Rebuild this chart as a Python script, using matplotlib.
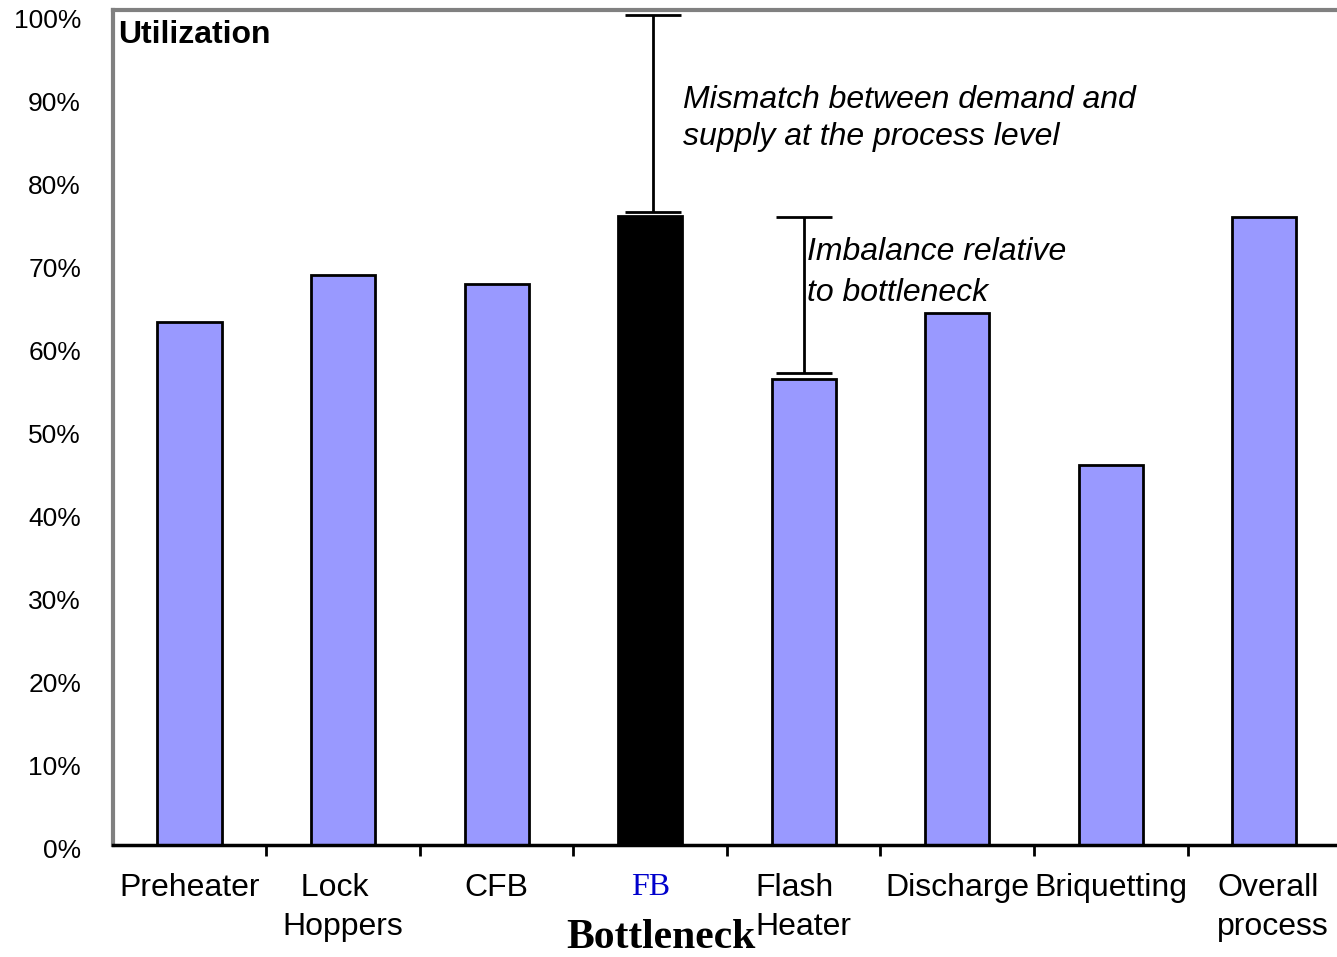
import numpy as np
import matplotlib
matplotlib.use('Agg')
import matplotlib.pyplot as plt
from matplotlib.transforms import ScaledTranslation

plt.rcParams['font.family'] = ['Liberation Sans', 'DejaVu Sans']

stages = ['Preheater', '  Lock\nHoppers', 'CFB', 'FB', 'Flash\nHeater',
          'Discharge', 'Briquetting', 'Overall\nprocess']
utilization = [63.0, 68.7, 67.6, 75.8, 56.1, 64.1, 45.8, 75.7]
bottleneck_idx = 3

# ranges for the two annotations (low, high)
mismatch_range = [76.3, 100.0]
imbalance_range = [56.9, 75.7]

fig = plt.figure(figsize=(13.37, 9.57), dpi=100)
ax = fig.add_axes([0.0845, 0.117, 0.9185, 0.8725])

x = np.arange(len(stages))
colors = ['#9999FF'] * len(stages)
colors[bottleneck_idx] = 'black'
ax.bar(x, utilization, width=0.42, color=colors, edgecolor='black', linewidth=2)

# error-bar style brackets
def bracket(xpos, lo, hi):
    mid = (lo + hi) / 2
    ax.errorbar(xpos, mid, yerr=[[mid - lo], [hi - mid]], fmt='none',
                ecolor='black', elinewidth=2, capsize=20, capthick=2)

bracket(bottleneck_idx + 0.02, mismatch_range[0], mismatch_range[1])
bracket(4, imbalance_range[0], imbalance_range[1])

ax.text(3.216, 91.6, 'Mismatch between demand and\nsupply at the process level',
        style='italic', fontsize=23, va='top', ha='left', linespacing=1.32)
ax.text(4.02, 73.2, 'Imbalance relative\nto bottleneck',
        style='italic', fontsize=23, va='top', ha='left', linespacing=1.45)
ax.text(0.004, 0.988, 'Utilization', transform=ax.transAxes,
        fontsize=23, fontweight='bold', va='top', ha='left')

ax.set_xlim(-0.5, len(stages) - 0.5)
ax.set_ylim(0, 100.6)

# y axis
ax.set_yticks(np.arange(0, 101, 10))
ax.set_yticklabels([f'{v}%' for v in range(0, 101, 10)])
ax.tick_params(axis='y', length=0, pad=23, labelsize=19)
for lab in ax.get_yticklabels():
    lab.set_transform(lab.get_transform() + ScaledTranslation(0, -0.03, fig.dpi_scale_trans))

# x axis: ticks between categories, labels at categories
ax.set_xticks(np.arange(0.5, len(stages) - 0.5, 1.0))
ax.set_xticklabels([])
ax.tick_params(axis='x', which='major', direction='out', length=8, width=2)
ax.set_xticks(x, minor=True)
ax.set_xticklabels(stages, minor=True, fontsize=23, multialignment='left',
                   linespacing=1.4)
ax.tick_params(axis='x', which='minor', length=0, pad=20)
for i, lab in enumerate(ax.get_xticklabels(minor=True)):
    if i == bottleneck_idx:
        lab.set_color('#0000CC')
        lab.set_family('Liberation Serif')
    if i == len(stages) - 1:
        lab.set_transform(lab.get_transform() + ScaledTranslation(0.09, 0, fig.dpi_scale_trans))

for side in ['left', 'top']:
    ax.spines[side].set_color('#808080')
    ax.spines[side].set_linewidth(3)
ax.spines['bottom'].set_linewidth(2.5)
ax.spines['right'].set_visible(False)

fig.text(661 / 1337, 0.0, 'Bottleneck', family='Liberation Serif',
         fontsize=30, fontweight='bold', ha='center', va='bottom')

fig.savefig('out.png', dpi=100)
